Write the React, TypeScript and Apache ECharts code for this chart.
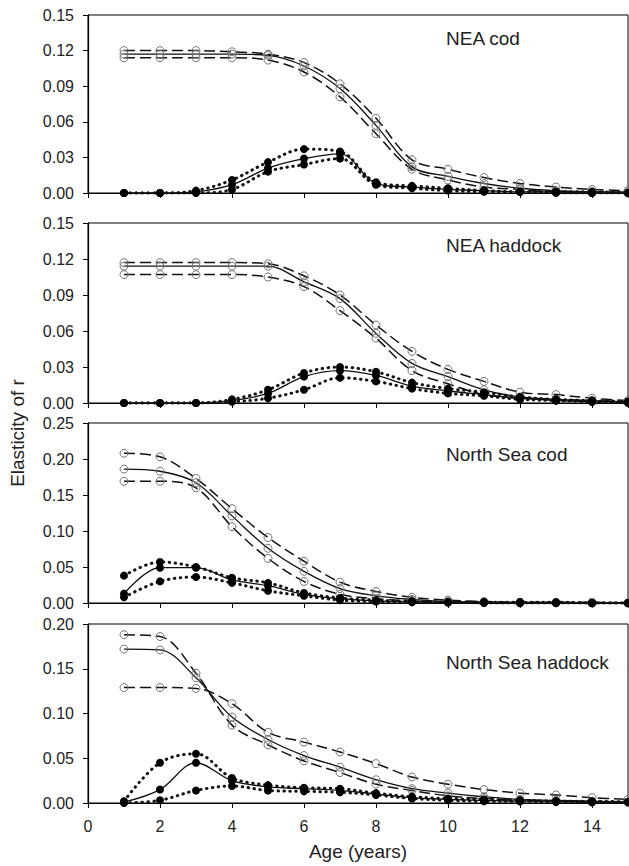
import React, { useEffect, useRef } from "react";
import * as echarts from "echarts";

const ages = [1, 2, 3, 4, 5, 6, 7, 8, 9, 10, 11, 12, 13, 14, 15];
const xTicks = [0, 2, 4, 6, 8, 10, 12, 14];
const panelNames = ["NEA cod", "NEA haddock", "North Sea cod", "North Sea haddock"];
const yMaxes = [0.15, 0.15, 0.25, 0.2];
const yIntervals = [0.03, 0.03, 0.05, 0.05];

// NEA cod
const neaCodOpen = [0.117, 0.117, 0.117, 0.117, 0.116, 0.107, 0.088, 0.057, 0.022, 0.014, 0.008, 0.004, 0.002, 0.001, 0.001];
const neaCodOpenA = [0.120, 0.120, 0.120, 0.119, 0.117, 0.110, 0.092, 0.063, 0.028, 0.020, 0.013, 0.008, 0.005, 0.003, 0.002];
const neaCodOpenB = [0.114, 0.114, 0.114, 0.114, 0.112, 0.102, 0.081, 0.050, 0.020, 0.011, 0.005, 0.003, 0.001, 0.001, 0.000];
const neaCodFilled = [0.000, 0.000, 0.001, 0.007, 0.021, 0.029, 0.033, 0.008, 0.005, 0.003, 0.002, 0.001, 0.001, 0.000, 0.000];
const neaCodFilledA = [0.000, 0.000, 0.002, 0.011, 0.026, 0.037, 0.035, 0.009, 0.006, 0.004, 0.002, 0.001, 0.001, 0.001, 0.000];
const neaCodFilledB = [0.000, 0.000, 0.000, 0.003, 0.018, 0.024, 0.029, 0.007, 0.004, 0.002, 0.001, 0.001, 0.000, 0.000, 0.000];

// NEA haddock
const neaHadOpen = [0.114, 0.114, 0.114, 0.114, 0.114, 0.101, 0.087, 0.058, 0.033, 0.022, 0.011, 0.005, 0.003, 0.002, 0.001];
const neaHadOpenA = [0.117, 0.117, 0.117, 0.117, 0.116, 0.106, 0.090, 0.065, 0.043, 0.028, 0.018, 0.009, 0.007, 0.004, 0.002];
const neaHadOpenB = [0.107, 0.107, 0.107, 0.107, 0.105, 0.097, 0.077, 0.054, 0.027, 0.016, 0.007, 0.004, 0.003, 0.002, 0.001];
const neaHadFilled = [0.000, 0.000, 0.000, 0.002, 0.008, 0.022, 0.027, 0.023, 0.014, 0.010, 0.007, 0.004, 0.002, 0.001, 0.001];
const neaHadFilledA = [0.000, 0.000, 0.000, 0.003, 0.011, 0.025, 0.030, 0.026, 0.017, 0.012, 0.009, 0.005, 0.003, 0.002, 0.001];
const neaHadFilledB = [0.000, 0.000, 0.000, 0.001, 0.004, 0.011, 0.021, 0.018, 0.012, 0.008, 0.006, 0.003, 0.002, 0.001, 0.000];

// North Sea cod
const nsCodOpen = [0.186, 0.183, 0.167, 0.121, 0.076, 0.044, 0.020, 0.010, 0.005, 0.002, 0.001, 0.001, 0.001, 0.000, 0.000];
const nsCodOpenA = [0.208, 0.203, 0.173, 0.131, 0.091, 0.058, 0.029, 0.016, 0.008, 0.004, 0.002, 0.001, 0.001, 0.001, 0.000];
const nsCodOpenB = [0.169, 0.169, 0.160, 0.106, 0.062, 0.030, 0.012, 0.006, 0.003, 0.001, 0.001, 0.000, 0.000, 0.000, 0.000];
const nsCodFilled = [0.013, 0.049, 0.049, 0.032, 0.024, 0.012, 0.006, 0.003, 0.002, 0.001, 0.001, 0.001, 0.000, 0.000, 0.000];
const nsCodFilledA = [0.038, 0.057, 0.050, 0.035, 0.028, 0.014, 0.007, 0.004, 0.002, 0.001, 0.001, 0.001, 0.001, 0.000, 0.000];
const nsCodFilledB = [0.008, 0.030, 0.036, 0.028, 0.017, 0.010, 0.004, 0.002, 0.001, 0.001, 0.000, 0.000, 0.000, 0.000, 0.000];

// North Sea haddock
const nsHadOpen = [0.172, 0.171, 0.140, 0.096, 0.071, 0.053, 0.040, 0.026, 0.016, 0.011, 0.007, 0.004, 0.003, 0.002, 0.001];
const nsHadOpenA = [0.188, 0.186, 0.145, 0.087, 0.065, 0.047, 0.034, 0.021, 0.014, 0.008, 0.005, 0.003, 0.002, 0.001, 0.001];
const nsHadOpenB = [0.129, 0.129, 0.128, 0.111, 0.079, 0.068, 0.057, 0.044, 0.029, 0.021, 0.015, 0.011, 0.009, 0.006, 0.004];
const nsHadFilled = [0.001, 0.015, 0.045, 0.025, 0.018, 0.016, 0.014, 0.010, 0.006, 0.004, 0.003, 0.002, 0.002, 0.001, 0.001];
const nsHadFilledA = [0.002, 0.045, 0.055, 0.028, 0.020, 0.017, 0.016, 0.011, 0.007, 0.005, 0.004, 0.003, 0.002, 0.002, 0.001];
const nsHadFilledB = [0.000, 0.003, 0.014, 0.019, 0.014, 0.013, 0.012, 0.009, 0.005, 0.003, 0.002, 0.002, 0.001, 0.001, 0.001];

const panels = [
  [neaCodOpen, neaCodOpenA, neaCodOpenB, neaCodFilled, neaCodFilledA, neaCodFilledB],
  [neaHadOpen, neaHadOpenA, neaHadOpenB, neaHadFilled, neaHadFilledA, neaHadFilledB],
  [nsCodOpen, nsCodOpenA, nsCodOpenB, nsCodFilled, nsCodFilledA, nsCodFilledB],
  [nsHadOpen, nsHadOpenA, nsHadOpenB, nsHadFilled, nsHadFilledA, nsHadFilledB],
];

const FONT = "'Liberation Sans', Arial, Helvetica, sans-serif";
const tops = [15, 223, 423, 624];
const heights = [178, 180, 180, 179];
const titleYs = [38, 245, 454, 662];

export default function App() {
  const ref = useRef<HTMLDivElement>(null);
  useEffect(() => {
    const chart = echarts.init(ref.current!, null, { renderer: "svg" });
    const grids = tops.map((t, i) => ({
      left: 88,
      right: 1,
      top: t,
      height: heights[i],
      show: true,
      borderColor: "#000",
      borderWidth: 1,
      containLabel: false,
    }));
    const xAxes = tops.map((_, i) => ({
      type: "value",
      gridIndex: i,
      min: 0,
      max: 15,
      interval: 2,
      axisLine: { lineStyle: { color: "#000", width: 1.2 } },
      axisTick: { show: true, inside: false, length: 5, lineStyle: { color: "#000" } },
      splitLine: { show: false },
      axisLabel: {
        show: i === 3,
        showMaxLabel: false,
        fontSize: 16,
        color: "#222",
        fontFamily: FONT,
        margin: 15,
        formatter: (v: number) => (xTicks.includes(v) ? String(v) : ""),
      },
    }));
    const yAxes = tops.map((_, i) => ({
      type: "value",
      gridIndex: i,
      min: 0,
      max: yMaxes[i],
      interval: yIntervals[i],
      axisLine: { show: true, lineStyle: { color: "#000", width: 1.2 } },
      axisTick: { show: true, inside: false, length: 5, lineStyle: { color: "#000" } },
      splitLine: { show: false },
      axisLabel: {
        fontSize: 16,
        color: "#222",
        fontFamily: FONT,
        margin: 14,
        formatter: (v: number) => v.toFixed(2),
      },
    }));
    const series: any[] = [];
    panels.forEach((arrs, p) => {
      arrs.forEach((arr, k) => {
        const open = k < 3;
        let lineStyle: any;
        if (k === 0 || k === 3) lineStyle = { color: "#111", width: 1.3, type: "solid" };
        else if (open) lineStyle = { color: "#111", width: 1.5, type: [11, 5] };
        else lineStyle = { color: "#111", width: 3, type: [0.5, 5.5], cap: "round" };
        series.push({
          type: "line",
          xAxisIndex: p,
          yAxisIndex: p,
          data: arr.map((v, j) => [ages[j], v]),
          smooth: 0.35,
          symbol: "circle",
          symbolSize: 8,
          showSymbol: true,
          itemStyle: open
            ? { color: "rgba(255,255,255,0)", borderColor: "#777", borderWidth: 1 }
            : { color: "#000", borderColor: "#000", borderWidth: 0 },
          lineStyle,
          z: open ? 2 : 3,
          silent: true,
        });
      });
    });
    const graphic: any[] = panelNames.map((n, i) => ({
      type: "text",
      x: 446,
      y: titleYs[i],
      style: {
        text: n,
        fontSize: 19,
        fontFamily: FONT,
        fill: "#222",
        textAlign: "left",
        textVerticalAlign: "middle",
      },
    }));
    graphic.push({
      type: "text",
      x: 358,
      y: 851,
      style: {
        text: "Age (years)",
        fontSize: 19,
        fontFamily: FONT,
        fill: "#222",
        textAlign: "center",
        textVerticalAlign: "middle",
      },
    });
    graphic.push({
      type: "text",
      x: 17,
      y: 433,
      rotation: Math.PI / 2,
      style: {
        text: "Elasticity of r",
        fontSize: 19,
        fontFamily: FONT,
        fill: "#222",
        textAlign: "center",
        textVerticalAlign: "middle",
      },
    });
    chart.setOption({
      animation: false,
      backgroundColor: "#fff",
      grid: grids,
      xAxis: xAxes,
      yAxis: yAxes,
      series,
      graphic,
    });
    return () => chart.dispose();
  }, []);
  return (
    <div
      ref={ref}
      style={{ position: "absolute", left: 0, top: 0, width: 629, height: 866, background: "#fff" }}
    />
  );
}
